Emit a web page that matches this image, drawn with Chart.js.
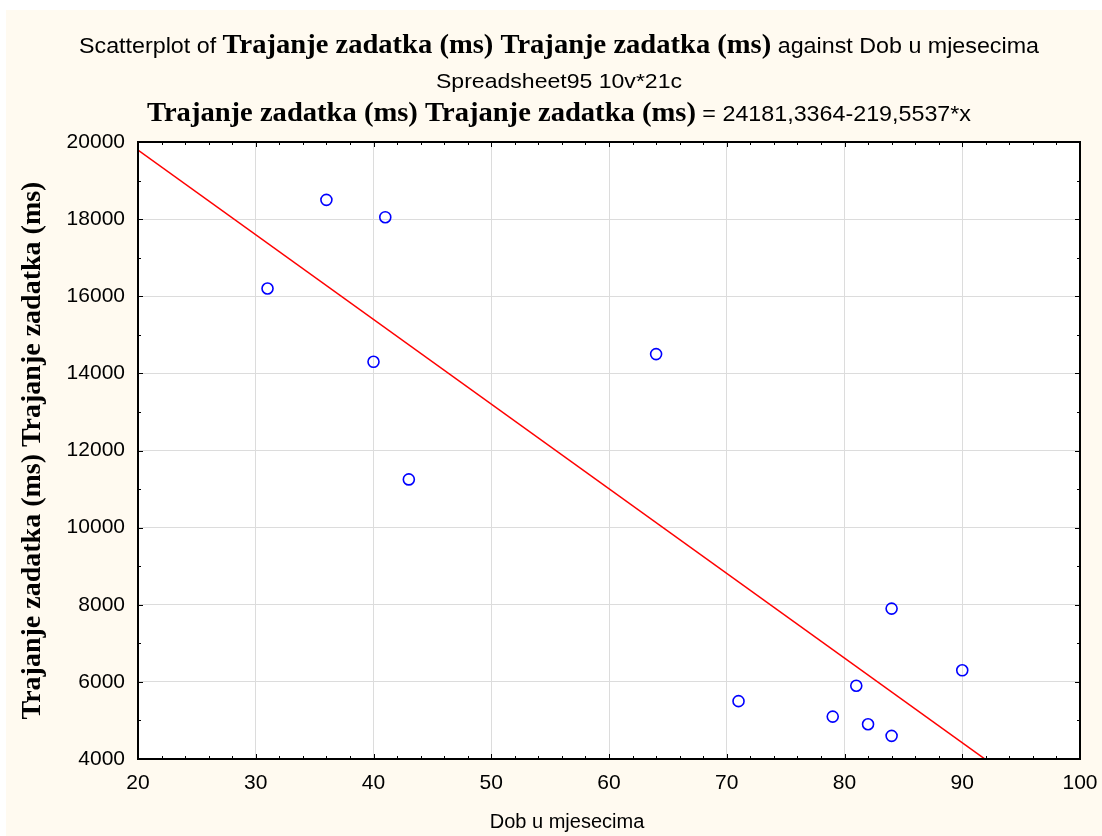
<!DOCTYPE html>
<html>
<head>
<meta charset="utf-8">
<script src="https://cdn.jsdelivr.net/npm/chart.js@4.4.1/dist/chart.umd.min.js"></script>
<style>
  html, body { margin: 0; padding: 0; background: #ffffff; overflow: hidden; }
  #chart { display: block; }
</style>
</head>
<body>
<canvas id="chart" width="1102" height="836"></canvas>
<script>
// Dob u mjesecima (x) i trajanje zadatka u ms (y)
const ageMonths = [31, 36, 40, 41, 43, 64, 71, 79, 81, 82, 84, 84, 90];
const taskDurationMs = [16200, 18500, 14300, 18050, 11250, 14500, 5500, 5100, 5900, 4900, 7900, 4600, 6300];

// regresijski pravac iz naslova
const fitIntercept = 24181.3364;
const fitSlope = -219.5537;

const xRange = [20, 100];
const xStep = 10;
const xMinorStep = 2;
const yRange = [4000, 20000];
const yStep = 2000;
const yMinorStep = 1000;

const SANS = '"Liberation Sans", Arial, sans-serif';
const SERIF = '"Liberation Serif", "Times New Roman", serif';
const CREAM = "#fffaf0";
const TITLE_CX = 559;

const fitLine = xRange.map((v) => ({ x: v, y: fitIntercept + fitSlope * v }));
const points = ageMonths.map((v, i) => ({ x: v, y: taskDurationMs[i] }));

const serifBold = (size) => `bold ${size}px ${SERIF}`;
const sans = (size) => `${size}px ${SANS}`;

const titleLines = [
  {
    parts: [
      { text: "Scatterplot of ", font: sans(22) },
      { text: "Trajanje zadatka (ms) Trajanje zadatka (ms)", font: serifBold(27) },
      { text: " against Dob u mjesecima", font: sans(22) },
    ],
    baseline: 53,
    width: 960,
  },
  {
    parts: [{ text: "Spreadsheet95 10v*21c", font: sans(21) }],
    baseline: 88,
    width: 246,
  },
  {
    parts: [
      { text: "Trajanje zadatka (ms) Trajanje zadatka (ms)", font: serifBold(27) },
      { text: " = 24181,3364-219,5537*x", font: sans(22) },
    ],
    baseline: 121,
    width: 824,
  },
];

function drawRichLine(ctx, line, cx) {
  const widths = line.parts.map((p) => {
    ctx.font = p.font;
    return ctx.measureText(p.text).width;
  });
  const total = widths.reduce((s, w) => s + w, 0);
  const sx = line.width / total;
  ctx.save();
  ctx.translate(cx - line.width / 2, line.baseline);
  ctx.scale(sx, 1);
  ctx.fillStyle = "#000";
  ctx.textBaseline = "alphabetic";
  ctx.textAlign = "left";
  let x = 0;
  line.parts.forEach((p, i) => {
    ctx.font = p.font;
    ctx.fillText(p.text, x, 0);
    x += widths[i];
  });
  ctx.restore();
}

const backgroundPlugin = {
  id: "pozadina",
  beforeDraw(chart) {
    const { ctx, chartArea: a, width, height } = chart;
    ctx.save();
    ctx.fillStyle = "#ffffff";
    ctx.fillRect(0, 0, width, height);
    ctx.fillStyle = CREAM;
    ctx.fillRect(6, 10, width - 6, height - 10);
    ctx.fillStyle = "#ffffff";
    ctx.fillRect(a.left, a.top, a.right - a.left, a.bottom - a.top);
    ctx.restore();
  },
  afterDraw(chart) {
    const { ctx } = chart;
    titleLines.forEach((l) => drawRichLine(ctx, l, TITLE_CX));
    // naziv x osi
    ctx.save();
    ctx.fillStyle = "#000";
    ctx.font = sans(20);
    ctx.textAlign = "center";
    ctx.textBaseline = "middle";
    ctx.fillText("Dob u mjesecima", 567, 822);
    ctx.restore();
  },
};

// okvir i unutarnje crtice
const framePlugin = {
  id: "okvir",
  afterDatasetsDraw(chart) {
    const { ctx, chartArea: a, scales } = chart;
    const x = scales.x;
    const y = scales.y;
    ctx.save();
    ctx.strokeStyle = "#000";
    ctx.lineWidth = 1;
    ctx.beginPath();
    for (let v = xRange[0]; v <= xRange[1]; v += xMinorStep) {
      const px = Math.round(x.getPixelForValue(v)) + 0.5;
      const len = v % xStep === 0 ? 5 : 3;
      ctx.moveTo(px, a.bottom);
      ctx.lineTo(px, a.bottom - len);
      ctx.moveTo(px, a.top);
      ctx.lineTo(px, a.top + len);
    }
    for (let v = yRange[0]; v <= yRange[1]; v += yMinorStep) {
      const py = Math.round(y.getPixelForValue(v)) + 0.5;
      const len = v % yStep === 0 ? 5 : 3;
      ctx.moveTo(a.left, py);
      ctx.lineTo(a.left + len, py);
      ctx.moveTo(a.right, py);
      ctx.lineTo(a.right - len, py);
    }
    ctx.stroke();
    ctx.lineWidth = 2;
    ctx.strokeRect(a.left, a.top, a.right - a.left, a.bottom - a.top);
    ctx.restore();
  },
};

new Chart(document.getElementById("chart").getContext("2d"), {
  type: "scatter",
  data: {
    datasets: [
      {
        label: "Trajanje zadatka (ms)",
        data: points,
        pointStyle: "circle",
        pointRadius: 5.5,
        pointHoverRadius: 5.5,
        borderColor: "#0000ff",
        backgroundColor: "rgba(0,0,0,0)",
        borderWidth: 1.6,
      },
      {
        label: "Pravac",
        type: "line",
        data: fitLine,
        borderColor: "#ff0000",
        borderWidth: 1.5,
        pointRadius: 0,
        fill: false,
      },
    ],
  },
  options: {
    responsive: false,
    animation: false,
    devicePixelRatio: 1,
    layout: {
      padding: { top: 142, right: 22, bottom: 0, left: 0 },
    },
    plugins: {
      legend: { display: false },
      tooltip: { enabled: false },
      title: { display: false },
    },
    scales: {
      x: {
        type: "linear",
        min: xRange[0],
        max: xRange[1],
        afterFit: (s) => {
          s.height = 77;
          s.paddingLeft = 0;
          s.paddingRight = 0;
        },
        ticks: {
          stepSize: xStep,
          color: "#000",
          padding: 12,
          font: { family: SANS, size: 21 },
          callback: (v) => String(v),
        },
        grid: { color: "#dcdcdc", lineWidth: 1, drawTicks: false },
        border: { display: false },
      },
      y: {
        type: "linear",
        min: yRange[0],
        max: yRange[1],
        afterFit: (s) => {
          s.width = 138;
          s.paddingTop = 0;
          s.paddingBottom = 0;
        },
        ticks: {
          stepSize: yStep,
          color: "#000",
          padding: 13,
          font: { family: SANS, size: 21 },
          callback: (v) => String(v),
        },
        grid: { color: "#dcdcdc", lineWidth: 1, drawTicks: false },
        border: { display: false },
        title: {
          display: true,
          text: "Trajanje zadatka (ms) Trajanje zadatka (ms)",
          color: "#000",
          font: { family: SERIF, size: 28, weight: "bold" },
          padding: { top: 16, bottom: 0 },
        },
      },
    },
  },
  plugins: [backgroundPlugin, framePlugin],
});
</script>
</body>
</html>
